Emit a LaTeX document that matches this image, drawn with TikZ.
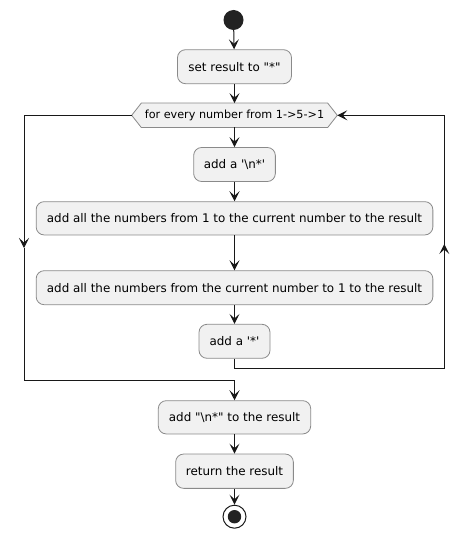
\documentclass[tikz,border=0pt]{standalone}
\usepackage{fontspec}
\setmainfont{DejaVu Sans}[Ligatures=TeXOff]
\usetikzlibrary{arrows.meta}
\definecolor{boxfill}{HTML}{F1F1F1}
\definecolor{boxline}{HTML}{8A8A8A}
\definecolor{ink}{HTML}{181818}
\definecolor{dot}{HTML}{222222}
\tikzset{
  x=1pt, y=-1pt,
  act/.style={draw=boxline, fill=boxfill, line width=0.8pt, rounded corners=8pt,
    inner sep=0pt, minimum height=34pt, font=\fontsize{11.9}{14}\selectfont, text=black},
  flow/.style={draw=ink, line width=1pt},
  tip/.style={-{Stealth[length=10pt,width=10pt,inset=4.5pt]}},
}
\begin{document}
\begin{tikzpicture}
\useasboundingbox (0,0) rectangle (469,540);
% start
\node[circle, fill=dot, minimum size=20pt, inner sep=0pt] (start) at (233.5,20) {};
\node[act, minimum width=114pt] (set) at (234.5,66.7) {set result to "*"};
% diamond
\node[inner sep=0pt, minimum width=186pt, minimum height=24pt] (dia) at (234.5,115.3) {};
\coordinate (diaL) at (131.7,115.3);
\coordinate (diaR) at (337.3,115.3);
\filldraw[draw=boxline, fill=boxfill, line width=0.8pt]
  (diaL) -- (dia.north west) -- (dia.north east) -- (diaR) -- (dia.south east) -- (dia.south west) -- cycle;
\node[font=\fontsize{11.2}{13}\selectfont] (diatext) at (dia) {for every number from 1->5->1};
\node[act, minimum width=81.7pt] (addn) at (234.5,164.5) {add a '\textbackslash n*'};
\node[act, minimum width=396.7pt, minimum height=33.3pt] (all1) at (234.5,218.3) {add all the numbers from 1 to the current number to the result};
\node[act, minimum width=396.7pt] (all2) at (234.5,287.7) {add all the numbers from the current number to 1 to the result};
\node[act, minimum width=71pt] (addstar) at (234.5,341.3) {add a '*'};
\node[act, minimum width=152.4pt, minimum height=33.3pt] (addres) at (234.5,417.3) {add "\textbackslash n*" to the result};
\node[act, minimum width=117.7pt, minimum height=34.3pt] (ret) at (234.5,471.2) {return the result};
% end
\node[circle, draw=ink, line width=1pt, fill=white, minimum size=23pt, inner sep=0pt] (stop) at (234.5,516.7) {};
\node[circle, fill=dot, minimum size=13.4pt, inner sep=0pt] (stopin) at (stop) {};
% connectors
\draw[flow, tip] (start) -- (set);
\draw[flow, tip] (set) -- (dia.north -| set.south);
\draw[flow, tip] (dia.south) -- (addn);
\draw[flow, tip] (addn) -- (all1);
\draw[flow, tip] (all1) -- (all2);
\draw[flow, tip] (all2) -- (addstar);
% loop back
\coordinate (r1) at (234.5,368.3);
\coordinate (r2) at (444.3,368.3);
\coordinate (rm) at (444.3,244);
\coordinate (r3) at (444.3,115.3);
\draw[flow] (addstar.south) -- (r1) -- (r2) -- (rm);
\draw[flow, tip] (r2) -- (rm);
\draw[flow, tip] (rm) -- (r3) -- (diaR);
% exit
\coordinate (l1) at (24,115.3);
\coordinate (lm) at (24,248);
\coordinate (l2) at (24,380.7);
\coordinate (l3) at (234.5,380.7);
\draw[flow, tip] (diaL) -- (l1) -- (lm);
\draw[flow] (lm) -- (l2) -- (l3);
\draw[flow, tip] (l3) -- (addres);
\draw[flow, tip] (addres) -- (ret);
\draw[flow, tip] (ret) -- (stop);
\end{tikzpicture}
\end{document}
